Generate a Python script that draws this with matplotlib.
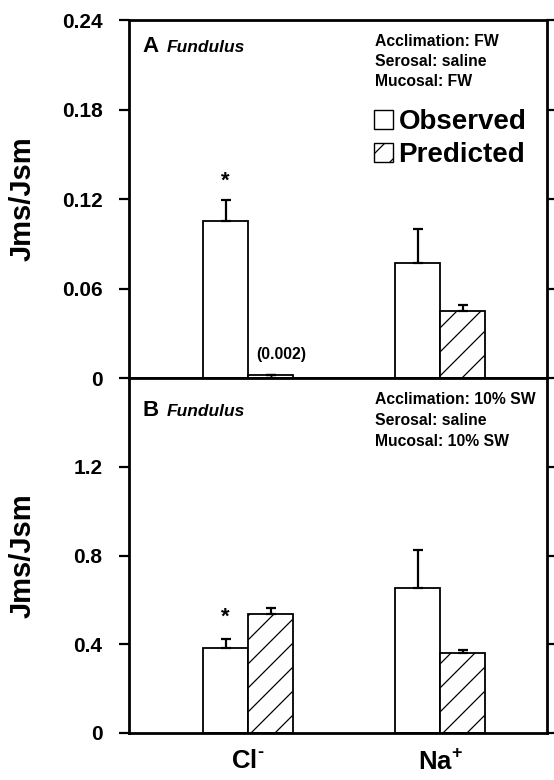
import numpy as np
import matplotlib
matplotlib.use("Agg")
from matplotlib import pyplot as plt
from matplotlib.patches import Patch

plt.rcParams["font.family"] = ["Liberation Sans", "DejaVu Sans"]
plt.rcParams["font.weight"] = "bold"
plt.rcParams["mathtext.fontset"] = "custom"
plt.rcParams["mathtext.bf"] = "Liberation Sans:bold"
plt.rcParams["mathtext.rm"] = "Liberation Sans:bold"

ions = ["Cl$^{\u2010}$", "Na$^{+}$"]

# panel A: FW acclimated
a_obs = [0.105, 0.077]
a_obs_err = [0.014, 0.023]
a_pred = [0.002, 0.045]
a_pred_err = [0.0, 0.004]

# panel B: 10% SW acclimated
b_obs = [0.385, 0.655]
b_obs_err = [0.040, 0.170]
b_pred = [0.535, 0.360]
b_pred_err = [0.030, 0.012]

# drawn at 72 dpi so the hatch is as dense as in the original; S scales sizes
DPI = 72
S = 100 / 72
W, H = 554, 780
plt.rcParams["hatch.linewidth"] = 0.9 * S
fig = plt.figure(figsize=(W / DPI, H / DPI), dpi=DPI)


def box(x0, y0, x1, y1):
    # pixel box (top-left origin) -> figure fraction
    return [x0 / W, 1 - y1 / H, (x1 - x0) / W, (y1 - y0) / H]


def px(xp, yp):
    return xp / W, 1 - yp / H


axA = fig.add_axes(box(129, 20, 547, 378))
axB = fig.add_axes(box(129, 378, 547, 733))

x = np.arange(len(ions))
bw = 0.234
ekw = dict(ecolor="black", elinewidth=1.6 * S, capsize=3.5 * S, capthick=1.6 * S)


def draw(ax, obs, obs_err, pred, pred_err, ymax, ticks, labels):
    ax.bar(x - bw / 2, obs, bw, color="white", edgecolor="black", linewidth=1.3 * S,
           yerr=[np.zeros(len(obs)), obs_err], error_kw=ekw, zorder=2)
    ax.bar(x + bw / 2, pred, bw, color="white", edgecolor="black", linewidth=1.3 * S,
           hatch="/", yerr=[np.zeros(len(pred)), pred_err], error_kw=ekw, zorder=2)
    ax.set_xlim(-0.62, 1.557)
    ax.set_ylim(0, ymax)
    ax.set_yticks(ticks)
    ax.set_yticklabels(labels, fontsize=15 * S, fontweight="bold")
    ax.tick_params(axis="y", which="both", direction="out", left=True, right=True,
                   length=7 * S, width=1.6 * S, pad=12 * S)
    ax.tick_params(axis="x", bottom=False, labelbottom=False)
    for s in ax.spines.values():
        s.set_linewidth(2.0 * S)
    ax.set_ylabel("Jms/Jsm", fontsize=21 * S, fontweight="bold")
    ax.yaxis.set_label_coords(-0.222, 0.5)


draw(axA, a_obs, a_obs_err, a_pred, a_pred_err, 0.24,
     [0, 0.06, 0.12, 0.18, 0.24], ["0", "0.06", "0.12", "0.18", "0.24"])
draw(axB, b_obs, b_obs_err, b_pred, b_pred_err, 1.6,
     [0, 0.4, 0.8, 1.2], ["0", "0.4", "0.8", "1.2"])

axB.tick_params(axis="x", bottom=False, labelbottom=True, labelsize=18.5 * S, pad=9 * S)
axB.set_xticks(x)
axB.set_xticklabels(ions)

# significance stars over the observed Cl- bars
axA.text(x[0] - bw / 2, a_obs[0] + a_obs_err[0] + 0.006, "*", ha="center",
         va="bottom", fontsize=16 * S, fontweight="bold")
axB.text(x[0] - bw / 2, b_obs[0] + b_obs_err[0] + 0.05, "*", ha="center",
         va="bottom", fontsize=16 * S, fontweight="bold")
axA.text(x[0] + 0.043, a_pred[0] + 0.009, "(0.002)", ha="left", va="bottom",
         fontsize=11.3 * S, fontweight="bold")

# panel letters and species
fig.text(*px(142, 46), "A", fontsize=16 * S, fontweight="bold", va="center")
fig.text(*px(167, 47), "Fundulus", fontsize=12.5 * S, fontweight="bold",
         style="italic", va="center")
fig.text(*px(142, 410), "B", fontsize=16 * S, fontweight="bold", va="center")
fig.text(*px(167, 411), "Fundulus", fontsize=12.5 * S, fontweight="bold",
         style="italic", va="center")

condA = ["Acclimation: FW", "Serosal: saline", "Mucosal: FW"]
condB = ["Acclimation: 10% SW", "Serosal: saline", "Mucosal: 10% SW"]
for i, t in enumerate(condA):
    fig.text(*px(375, 41 + 20.5 * i), t, fontsize=11.3 * S, fontweight="bold", va="center")
for i, t in enumerate(condB):
    fig.text(*px(375, 400 + 20.5 * i), t, fontsize=11.3 * S, fontweight="bold", va="center")

handles = [Patch(facecolor="white", edgecolor="black", linewidth=1.0 * S, label="Observed"),
           Patch(facecolor="white", edgecolor="black", linewidth=1.0 * S, hatch="/",
                 label="Predicted")]
axA.legend(handles=handles, loc="upper left", bbox_to_anchor=px(374, 109),
           bbox_transform=fig.transFigure, frameon=False,
           prop=dict(weight="bold", size=20 * S), handlelength=0.7, handleheight=0.68,
           handletextpad=0.18, labelspacing=0.25, borderpad=0, borderaxespad=0)

fig.savefig("out.png", dpi=DPI)
